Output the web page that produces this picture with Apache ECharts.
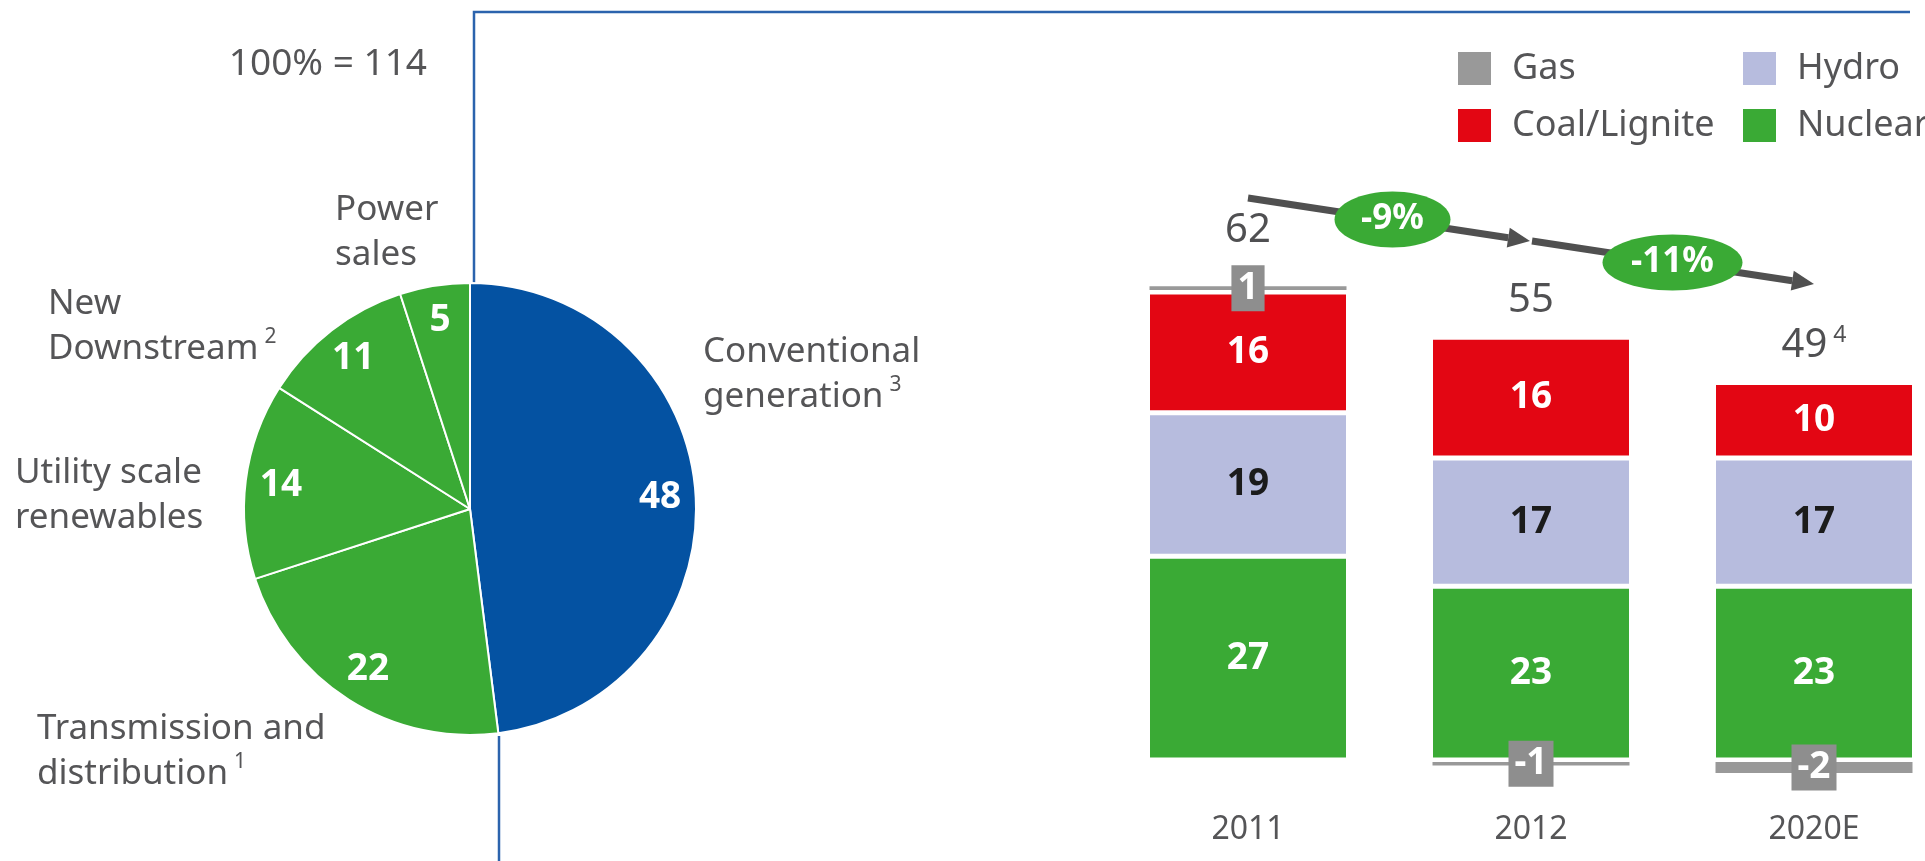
<!DOCTYPE html>
<html>
<head>
<meta charset="utf-8">
<script src="https://cdn.jsdelivr.net/npm/echarts@6/dist/echarts.min.js"></script>
<style>
  html, body { margin: 0; padding: 0; background: #fff; }
  #chart { width: 1925px; height: 861px; }
</style>
</head>
<body>
<div id="chart"></div>
<script>
// Portfolio split, shares of the 100% total
const pieTotal = 114;
const segmentNames = ['Conventional\ngeneration', 'Transmission and\ndistribution', 'Utility scale\nrenewables', 'New\nDownstream', 'Power\nsales'];
const segmentNotes = ['3', '1', '', '2', ''];
const segmentShares = [48, 22, 14, 11, 5];

// Conventional generation by fuel
const years = ['2011', '2012', '2020E'];
const nuclear = [27, 23, 23];
const hydro = [19, 17, 17];
const coal = [16, 16, 10];
const gas = [1, -1, -2];
const totals = [62, 55, 49];
const totalNotes = ['', '', '4'];
const changeLabels = ['-9%', '-11%'];

// ---- styling / layout ----
const FONT = '"Noto Sans", "DejaVu Sans", sans-serif';
const GREY_TEXT = '#555557';
const BLUE = '#0452a2';
const GREEN = '#3aaa35';
const RED = '#e30613';
const LAVENDER = '#b7bcde';
const GAS_GREY = '#999999';
const segmentColors = [BLUE, GREEN, GREEN, GREEN, GREEN];
const pieCenter = [470, 509];
const pieRadius = 226;
// anchor (left, vertical middle) of each segment caption
const captionAnchors = [[703, 375], [37, 752], [15, 496], [48, 327], [335, 233]];

const chart = echarts.init(document.getElementById('chart'), null, { renderer: 'canvas' });

const barLabel = { show: true, position: 'inside', fontFamily: FONT, fontWeight: 'bold', fontSize: 37 };
const barItem = (color, bw) => ({ color: color, borderColor: '#fff', borderWidth: bw });

const option = {
  animation: false,
  backgroundColor: '#fff',
  textStyle: { fontFamily: FONT },
  // first and last columns sit on the grid edges
  grid: { left: 1248, width: 566, top: 269.25, height: 528.5, containLabel: false },
  xAxis: {
    type: 'category',
    data: years,
    boundaryGap: false,
    axisLine: { show: false },
    axisTick: { show: false },
    splitLine: { show: false },
    axisLabel: { fontSize: 32, color: GREY_TEXT, fontFamily: FONT, margin: 16 }
  },
  yAxis: { type: 'value', min: -5, max: 65, show: false, splitLine: { show: false } },
  legend: [
    {
      orient: 'vertical', left: 1451, top: 45, itemWidth: 35, itemHeight: 35, itemGap: 20,
      icon: 'rect', selectedMode: false, data: ['Gas', 'Coal/Lignite'],
      textStyle: { fontSize: 36, color: GREY_TEXT, fontFamily: FONT, lineHeight: 36, padding: [0, 0, 0, 15] }
    },
    {
      orient: 'vertical', left: 1736, top: 45, itemWidth: 35, itemHeight: 35, itemGap: 20,
      icon: 'rect', selectedMode: false, data: ['Hydro', 'Nuclear'],
      textStyle: { fontSize: 36, color: GREY_TEXT, fontFamily: FONT, lineHeight: 36, padding: [0, 0, 0, 15] }
    }
  ],
  series: [
    {
      type: 'pie',
      name: 'Portfolio',
      center: pieCenter,
      radius: pieRadius,
      startAngle: 90,
      clockwise: true,
      silent: true,
      avoidLabelOverlap: false,
      data: segmentShares.map((v, i) => ({ value: v, name: segmentNames[i], itemStyle: { color: segmentColors[i] } })),
      itemStyle: { borderColor: '#fff', borderWidth: 2 },
      label: {
        show: true,
        position: 'outside',
        formatter: (p) => {
          const lines = p.name.split('\n');
          const note = segmentNotes[p.dataIndex];
          return lines.map((l) => '{n|' + l + '}').join('\n') + (note ? '{s|' + note + '}' : '');
        },
        rich: {
          n: { fontSize: 35, lineHeight: 45, color: GREY_TEXT, fontFamily: FONT },
          s: { fontSize: 21, lineHeight: 30, verticalAlign: 'top', color: GREY_TEXT, fontFamily: FONT, padding: [0, 0, 0, 6] }
        }
      },
      labelLine: { show: false },
      labelLayout: (p) => ({
        x: captionAnchors[p.dataIndex][0],
        y: captionAnchors[p.dataIndex][1],
        align: 'left',
        verticalAlign: 'middle'
      })
    },
    {
      // value labels placed in the outer ring of each slice
      type: 'pie',
      name: 'Shares',
      center: pieCenter,
      radius: [149, pieRadius],
      startAngle: 90,
      clockwise: true,
      silent: true,
      data: segmentShares.map((v, i) => ({ value: v, name: segmentNames[i] })),
      itemStyle: { color: 'rgba(0,0,0,0)', borderWidth: 0 },
      label: { show: true, position: 'inside', formatter: '{c}', color: '#fff', fontWeight: 'bold', fontSize: 37, fontFamily: FONT },
      labelLine: { show: false }
    },
    {
      type: 'bar', name: 'Nuclear', stack: 'fuel', barWidth: 201, silent: true, clip: false,
      data: nuclear, itemStyle: barItem(GREEN, 2.5),
      label: Object.assign({}, barLabel, { color: '#fff' })
    },
    {
      type: 'bar', name: 'Hydro', stack: 'fuel', barWidth: 201, silent: true, clip: false,
      data: hydro, itemStyle: barItem(LAVENDER, 2.5),
      label: Object.assign({}, barLabel, { color: '#1b1b1b' })
    },
    {
      type: 'bar', name: 'Coal/Lignite', stack: 'fuel', barWidth: 201, silent: true, clip: false,
      data: coal, itemStyle: barItem(RED, 2.5),
      label: Object.assign({}, barLabel, { color: '#fff' })
    },
    {
      type: 'bar', name: 'Gas', stack: 'fuel', barWidth: 201, silent: true, clip: false,
      data: gas, itemStyle: barItem(GAS_GREY, 2),
      label: Object.assign({}, barLabel, {
        color: '#fff', backgroundColor: '#8e8e8e', padding: [4, 6, 2, 6], lineHeight: 40
      })
    },
    {
      // totals written above each column
      type: 'scatter', name: 'Total', symbolSize: 0, silent: true, z: 5, clip: false,
      itemStyle: { opacity: 1 },
      data: years.map((y, i) => ({
        value: [y, nuclear[i] + hydro[i] + coal[i] + Math.max(gas[i], 0)],
        label: { distance: gas[i] > 0 ? 32 : 15 }
      })),
      label: {
        show: true,
        position: 'top',
        formatter: (p) => '{t|' + totals[p.dataIndex] + '}' + (totalNotes[p.dataIndex] ? '{s|' + totalNotes[p.dataIndex] + '}' : ''),
        rich: {
          t: { fontSize: 40, lineHeight: 44, color: '#505052', fontFamily: FONT },
          s: { fontSize: 23, lineHeight: 28, verticalAlign: 'top', color: '#505052', fontFamily: FONT, padding: [0, 0, 0, 6] }
        }
      }
    }
  ]
};

chart.setOption(option);

// frame, pie total and trend arrows
function arrow(x1, y1, x2, y2) {
  const len = Math.hypot(x2 - x1, y2 - y1);
  const ux = (x2 - x1) / len, uy = (y2 - y1) / len;
  const head = 22, half = 10;
  const bx = x2 - ux * head, by = y2 - uy * head;
  return [
    { type: 'line', z: 10, shape: { x1: x1, y1: y1, x2: bx, y2: by }, style: { stroke: '#505050', lineWidth: 7 } },
    { type: 'polygon', z: 10, shape: { points: [[x2, y2], [bx - uy * half, by + ux * half], [bx + uy * half, by - ux * half]] }, style: { fill: '#505050' } }
  ];
}

function badge(cx, cy, rx, ry, text) {
  return [
    { type: 'ellipse', z: 11, shape: { cx: cx, cy: cy, rx: rx, ry: ry }, style: { fill: GREEN } },
    { type: 'text', z: 12, x: cx, y: cy, style: { text: text, fill: '#fff', font: 'bold 35px ' + FONT, align: 'center', verticalAlign: 'middle' } }
  ];
}

const cx = years.map((y) => chart.convertToPixel({ xAxisIndex: 0 }, y));
const arrowY = [198, 241, 284];
const mid = (a, b) => (a + b) / 2;

const graphics = [
  { type: 'polyline', z: 1, shape: { points: [[474, pieCenter[1] - pieRadius], [474, 12], [1910, 12]] }, style: { stroke: '#2b63ad', lineWidth: 2.5, fill: null } },
  { type: 'line', z: 1, shape: { x1: 499, y1: 736, x2: 499, y2: 861 }, style: { stroke: '#2b63ad', lineWidth: 2.5 } },
  { type: 'text', x: 427, y: 64, style: { text: '100% = ' + pieTotal, fill: GREY_TEXT, font: '37px ' + FONT, align: 'right', verticalAlign: 'middle' } }
]
  .concat(arrow(cx[0], arrowY[0], cx[1] - 1, arrowY[1]))
  .concat(arrow(cx[1] + 1, arrowY[1], cx[2], arrowY[2]))
  .concat(badge(mid(cx[0], cx[1]) + 3, mid(arrowY[0], arrowY[1]), 58, 28, changeLabels[0]))
  .concat(badge(mid(cx[1], cx[2]), mid(arrowY[1], arrowY[2]), 70, 28, changeLabels[1]));

chart.setOption({ graphic: graphics });
</script>
</body>
</html>
